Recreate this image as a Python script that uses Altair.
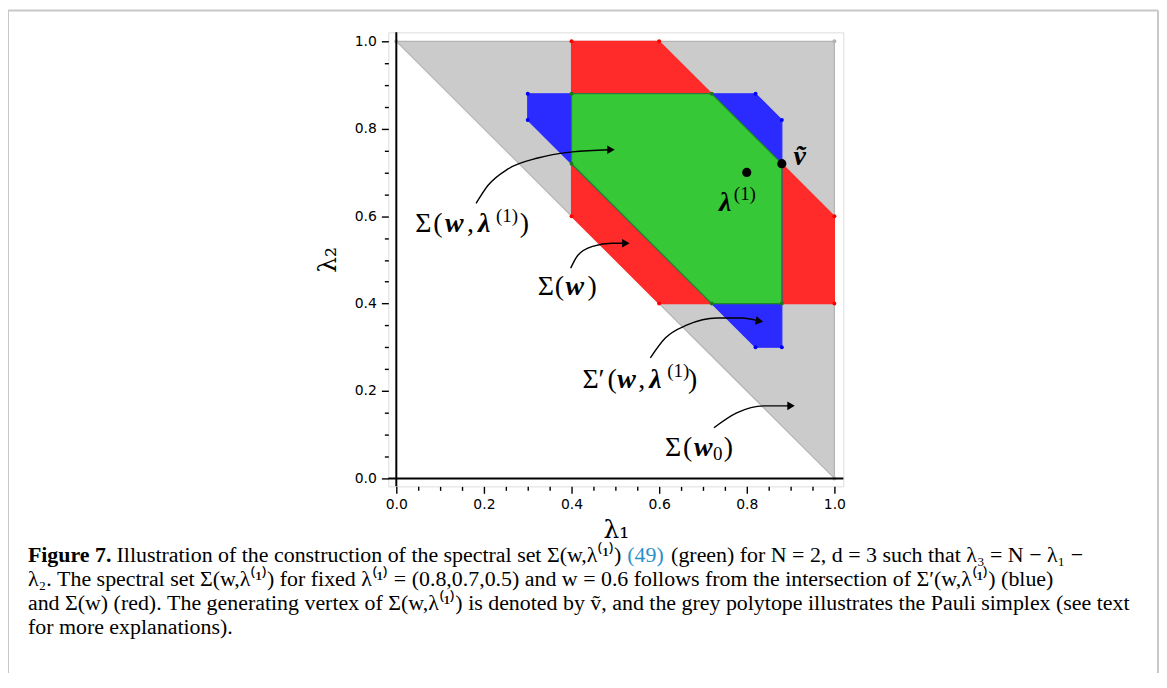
import altair as alt
import pandas as pd

# ---------------- data ----------------
grey_x = [0.0, 1.0, 1.0]
grey_y = [1.0, 1.0, 0.0]
red_x = [0.4, 0.6, 1.0, 1.0, 0.6, 0.4]
red_y = [1.0, 1.0, 0.6, 0.4, 0.4, 0.6]
blue_x = [0.3, 0.82, 0.88, 0.88, 0.82, 0.3]
blue_y = [0.88, 0.88, 0.82, 0.3, 0.3, 0.82]
green_x = [0.4, 0.72, 0.88, 0.88, 0.72, 0.4]
green_y = [0.88, 0.88, 0.72, 0.4, 0.4, 0.72]
special_x = [0.8, 0.88]      # lambda^(1), v-tilde
special_y = [0.7, 0.72]

tick_values = [0.0, 0.05, 0.1, 0.15, 0.2, 0.25, 0.3, 0.35, 0.4, 0.45, 0.5,
               0.55, 0.6, 0.65, 0.7, 0.75, 0.8, 0.85, 0.9, 0.95, 1.0]

# annotation arrows (data coordinates)
arrow1_x = [0.182, 0.209, 0.255, 0.323, 0.402, 0.486]
arrow1_y = [0.629, 0.670, 0.708, 0.733, 0.747, 0.752]
arrow2_x = [0.398, 0.414, 0.448, 0.493, 0.520]
arrow2_y = [0.481, 0.510, 0.531, 0.538, 0.538]
arrow3_x = [0.580, 0.614, 0.664, 0.732, 0.789, 0.825]
arrow3_y = [0.276, 0.321, 0.351, 0.367, 0.367, 0.361]
arrow4_x = [0.725, 0.777, 0.839, 0.895]
arrow4_y = [0.116, 0.150, 0.166, 0.166]
head_x = [0.490, 0.524, 0.829, 0.901]
head_y = [0.752, 0.538, 0.360, 0.166]
head_angle = [0, 0, 10, 0]

# label pieces (text, x, y) in data coordinates
lab_normal = [("Σ", 0.0432, 0.5626), ("(", 0.0841, 0.5626), (",", 0.1614, 0.5626), (")", 0.2818, 0.5626),
              ("Σ", 0.3227, 0.4191), ("(", 0.3614, 0.4191), (")", 0.4364, 0.4191),
              ("Σ", 0.4250, 0.2073), ("′", 0.4614, 0.2073), ("(", 0.4818, 0.2073), (",", 0.5523, 0.2073),
              (")", 0.6659, 0.2073),
              ("Σ", 0.6136, 0.0524), ("(", 0.6545, 0.0524), (")", 0.7477, 0.0524)]
lab_bold = [("w", 0.1114, 0.5626), ("λ", 0.1864, 0.5626),
            ("w", 0.3864, 0.4191),
            ("w", 0.5045, 0.2073), ("λ", 0.5773, 0.2073),
            ("w", 0.6795, 0.0524),
            ("λ", 0.7364, 0.6128), ("ṽ", 0.9068, 0.7175)]
lab_small = [("(1)", 0.2273, 0.5877), ("(1)", 0.6182, 0.2323), ("0", 0.7227, 0.0410), ("(1)", 0.7705, 0.6378)]

caption = [
    ("Figure 7.", 28, 563, "bold", "black"),
    ("Illustration of the construction of the spectral set Σ(w,λ⁽¹⁾)", 117, 563, "normal", "black"),
    ("(49)", 630, 563, "normal", "#2a8fc9"),
    ("(green) for N = 2, d = 3 such that λ₃ = N − λ₁ −", 674, 563, "normal", "black"),
    ("λ₂. The spectral set Σ(w,λ⁽¹⁾) for fixed λ⁽¹⁾ = (0.8,0.7,0.5) and w = 0.6 follows from the intersection of Σ′(w,λ⁽¹⁾) (blue)",
     28, 587, "normal", "black"),
    ("and Σ(w) (red). The generating vertex of Σ(w,λ⁽¹⁾) is denoted by ṽ, and the grey polytope illustrates the Pauli simplex (see text",
     28, 611, "normal", "black"),
    ("for more explanations).", 28, 635, "normal", "black"),
]

# ---------------- layout ----------------
PLOT_LEFT, PLOT_TOP = 390, 31   # page position of the frame
W, H = 457, 456
DOM = [-0.0182, 1.0205]

major = "abs(datum.value*5 - round(datum.value*5)) < 0.001"


def make_axis(title, pad, tpad):
    return alt.Axis(values=tick_values,
                    labelExpr=f"({major}) ? format(datum.value, '.1f') : ''",
                    tickSize={"condition": {"test": major, "value": 7}, "value": 4},
                    domain=False, grid=False, labelOverlap=False, labelFlush=False,
                    labelFont="DejaVu Sans", labelFontSize=14, labelColor="black",
                    tickColor="black", tickWidth=1.4, labelPadding=pad,
                    title=title, titleFont="DejaVu Serif", titleFontSize=25,
                    titleFontWeight="normal", titleColor="black", titlePadding=tpad)


xaxis = make_axis("λ₁", 4, 6)
yaxis = make_axis("λ₂", 5, 14)
xs = alt.Scale(domain=DOM, nice=False, zero=False)
ys = alt.Scale(domain=DOM, nice=False, zero=False)


def X(f="x"):
    return alt.X(f"{f}:Q", scale=xs, axis=xaxis)


def Y(f="y"):
    return alt.Y(f"{f}:Q", scale=ys, axis=yaxis)


def polygon(px, py, fill, stroke, dot):
    df = pd.DataFrame({"x": px + [px[0]], "y": py + [py[0]], "i": list(range(len(px) + 1))})
    shape = alt.Chart(df).mark_line(fill=fill, stroke=stroke, strokeWidth=1.2, fillOpacity=1).encode(
        x=X(), y=Y(), order="i:Q")
    dots = alt.Chart(df.iloc[:-1]).mark_circle(color=dot, size=16, opacity=1).encode(x=X(), y=Y())
    return [shape, dots]


layers = []
layers += polygon(grey_x, grey_y, "#cbcbcb", "#b3b3b3", "#b3b3b3")
layers += polygon(red_x, red_y, "#ff2b2b", "#ff2b2b", "#ff0000")
layers += polygon(blue_x, blue_y, "#2b2bff", "#2b2bff", "#0000ff")
layers += polygon(green_x, green_y, "#37c837", "#1f8a1f", "#1a7a1a")

zero_df = pd.DataFrame({"v": [0.0]})
layers.append(alt.Chart(zero_df).mark_rule(color="black", strokeWidth=2).encode(
    x=X("v"), y=alt.value(0), y2=alt.value(H)))
layers.append(alt.Chart(zero_df).mark_rule(color="black", strokeWidth=2).encode(
    y=Y("v"), x=alt.value(0), x2=alt.value(W)))

layers.append(alt.Chart(pd.DataFrame({"x": special_x, "y": special_y})).mark_circle(
    color="black", size=85, opacity=1).encode(x=X(), y=Y()))

for ax, ay in [(arrow1_x, arrow1_y), (arrow2_x, arrow2_y), (arrow3_x, arrow3_y), (arrow4_x, arrow4_y)]:
    adf = pd.DataFrame({"x": ax, "y": ay, "i": list(range(len(ax)))})
    layers.append(alt.Chart(adf).mark_line(color="black", strokeWidth=1.4, interpolate="monotone").encode(
        x=X(), y=Y(), order="i:Q"))
layers.append(alt.Chart(pd.DataFrame({"x": head_x, "y": head_y, "a": head_angle})).mark_point(
    shape="triangle-right", filled=True, color="black", size=75, opacity=1).encode(
    x=X(), y=Y(), angle=alt.Angle("a:Q", scale=None)))


def text_layer(items, size, weight="normal", style="normal"):
    df = pd.DataFrame({"t": [i[0] for i in items], "x": [i[1] for i in items], "y": [i[2] for i in items]})
    return alt.Chart(df).mark_text(align="left", baseline="alphabetic", font="Liberation Serif",
                                   fontSize=size, fontWeight=weight, fontStyle=style, color="black").encode(
        x=X(), y=Y(), text="t:N")


layers.append(text_layer(lab_normal, 28))
layers.append(text_layer(lab_bold, 28, "bold", "italic"))
layers.append(text_layer(lab_small, 19))

one = pd.DataFrame({"k": [0]})
for txt, cx, cy, wt, col in caption:
    layers.append(alt.Chart(pd.DataFrame({"t": [txt]})).mark_text(
        align="left", baseline="alphabetic", font="Liberation Serif", fontSize=22, fontWeight=wt, color=col).encode(
        x=alt.value(cx - PLOT_LEFT), y=alt.value(cy - PLOT_TOP), text="t:N"))

# light grey figure border
for bx in [8, 1163]:
    layers.append(alt.Chart(one).mark_rule(color="#c8c8c8", strokeWidth=2).encode(
        x=alt.value(bx - PLOT_LEFT), y=alt.value(9 - PLOT_TOP), y2=alt.value(700 - PLOT_TOP)))
layers.append(alt.Chart(one).mark_rule(color="#c8c8c8", strokeWidth=2).encode(
    y=alt.value(9 - PLOT_TOP), x=alt.value(8 - PLOT_LEFT), x2=alt.value(1163 - PLOT_LEFT)))

chart = alt.layer(*layers).properties(
    width=W, height=H,
    autosize=alt.AutoSizeParams(type="none"),
    padding={"left": PLOT_LEFT - 8, "top": PLOT_TOP - 8, "right": 1164 - PLOT_LEFT - W, "bottom": 665 - (PLOT_TOP - 8) - H},
).configure_view(stroke="black", strokeWidth=2.2).configure(background="white")

chart.save("out.html", embed_options={"renderer": "svg", "actions": False})
